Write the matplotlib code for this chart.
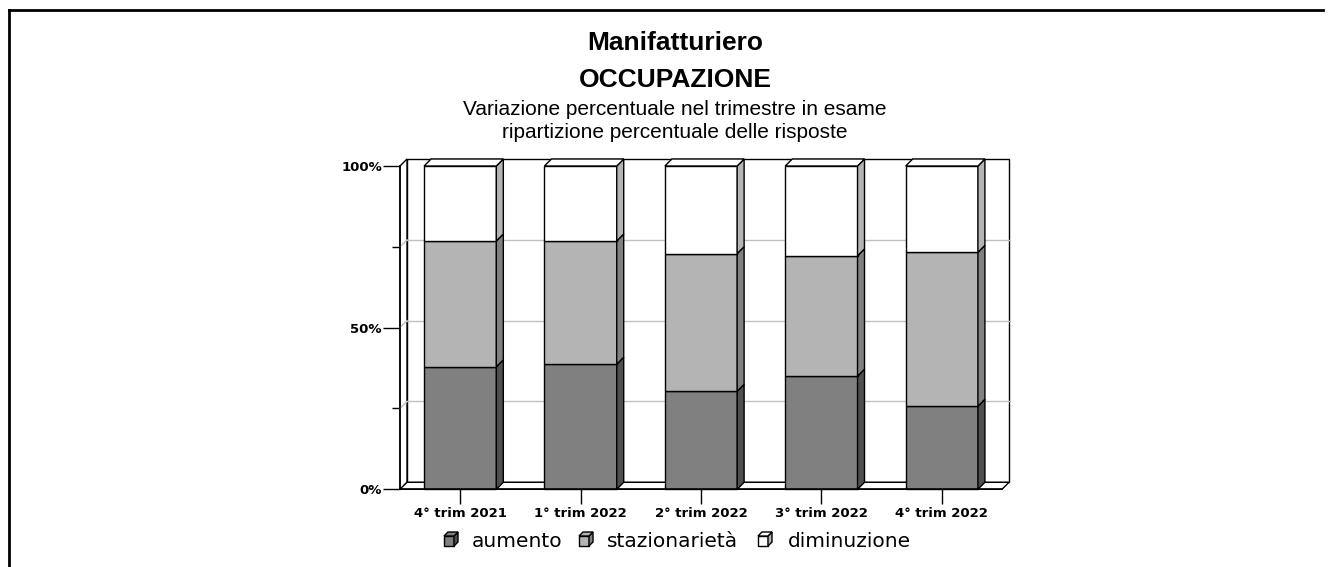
import numpy as np
import matplotlib
matplotlib.use('Agg')
import matplotlib.pyplot as plt
from matplotlib.patches import Polygon
from matplotlib.lines import Line2D
from matplotlib.transforms import IdentityTransform

# data (percent of answers)
categories = ['4° trim 2021', '1° trim 2022', '2° trim 2022', '3° trim 2022', '4° trim 2022']
aumento = [37.9, 38.7, 30.3, 35.0, 25.7]
stazionarieta = [38.9, 38.1, 42.6, 37.2, 47.6]
diminuzione = [23.2, 23.2, 27.1, 27.8, 26.7]
series_names = ['aumento', 'stazionarietà', 'diminuzione']
front_colors = ['#808080', '#b4b4b4', '#ffffff']
side_colors = ['#4f4f4f', '#808080', '#b4b4b4']
yticks_major = [0, 50, 100]
yticks_minor = [25, 75]

W, H = 1331, 567
DX, DY = 7, 7  # depth of the fake 3d, pixels

fig = plt.figure(figsize=(W / 100, H / 100), dpi=100)
ax = fig.add_axes([400 / W, (H - 489.3) / H, 602 / W, 323.3 / H])
ax.set_xlim(-0.5, len(categories) - 0.5)
ax.set_ylim(0, 100)
ax.patch.set_visible(False)
for s in ['top', 'right']:
    ax.spines[s].set_visible(False)
for s in ['left', 'bottom']:
    ax.spines[s].set_linewidth(1.1)
    ax.spines[s].set_zorder(5)

ident = IdentityTransform()


def pt(x, y, back=False):
    px, py = ax.transData.transform((x, y))
    if back:
        px, py = px + DX, py + DY
    return (px, py)


def poly(points, fc, z, ec='black', lw=1.0):
    ax.add_artist(Polygon(points, closed=True, facecolor=fc, edgecolor=ec, lw=lw,
                          transform=ident, zorder=z, joinstyle='miter', clip_on=False))


def line(a, b, z):
    ax.add_artist(Line2D([a[0], b[0]], [a[1], b[1]], color='#c0c0c0', lw=1,
                         transform=ident, zorder=z, clip_on=False))


x0, x1 = ax.get_xlim()
# back wall, left wall, floor
poly([pt(x0, 0, True), pt(x1, 0, True), pt(x1, 100, True), pt(x0, 100, True)], 'white', 1)
poly([pt(x0, 0), pt(x0, 0, True), pt(x0, 100, True), pt(x0, 100)], 'white', 1)
poly([pt(x0, 0), pt(x1, 0), pt(x1, 0, True), pt(x0, 0, True)], 'white', 1)

# gridlines on the back wall
for v in yticks_minor + [50]:
    line(pt(x0, v, True), pt(x1, v, True), 2)
    line(pt(x0, v), pt(x0, v, True), 2)

# stacked bars with front, side and top faces
width = 0.6
values = [aumento, stazionarieta, diminuzione]
for i in range(len(categories)):
    bottom = 0
    left, right = i - width / 2, i + width / 2
    for k, vals in enumerate(values):
        top = bottom + vals[i]
        z = 3 + i * 0.1 + k * 0.01
        poly([pt(left, bottom), pt(right, bottom), pt(right, top), pt(left, top)], front_colors[k], z)
        poly([pt(right, bottom), pt(right, bottom, True), pt(right, top, True), pt(right, top)], side_colors[k], z)
        if k == len(values) - 1:
            poly([pt(left, top), pt(right, top), pt(right, top, True), pt(left, top, True)], front_colors[k], z)
        bottom = top

# ticks
ax.set_xticks(range(len(categories)))
ax.set_xticklabels(categories, fontsize=9.5, fontweight='bold', family='DejaVu Sans')
ax.tick_params(axis='x', length=11, width=1, pad=2)
ax.set_yticks(yticks_major)
ax.set_yticklabels(['%d%%' % v for v in yticks_major], fontsize=9.5, fontweight='bold', family='DejaVu Sans')
ax.set_yticks(yticks_minor, minor=True)
ax.tick_params(axis='y', which='major', length=12, width=1, pad=1)
ax.tick_params(axis='y', which='minor', length=6, width=1)

# titles
cx = 675 / W
fig.text(cx, 1 - 50 / H, 'Manifatturiero', ha='center', va='baseline',
         fontsize=19, fontweight='bold', family='Liberation Sans')
fig.text(cx, 1 - 87.3 / H, 'OCCUPAZIONE', ha='center', va='baseline',
         fontsize=19, fontweight='bold', family='Liberation Sans')
fig.text(cx, 1 - 115 / H, 'Variazione percentuale nel trimestre in esame', ha='center',
         va='baseline', fontsize=15, family='Liberation Sans')
fig.text(cx, 1 - 137.7 / H, 'ripartizione percentuale delle risposte', ha='center',
         va='baseline', fontsize=15, family='Liberation Sans')

# legend with small cube icons
leg_icon_x = [444, 579, 758]
leg_text_x = [472, 607, 788]
base_y = 547
for k, name in enumerate(series_names):
    fig.text(leg_text_x[k] / W, 1 - base_y / H, name, ha='left', va='baseline',
             fontsize=14.5, family='DejaVu Sans')
    xl = leg_icon_x[k]
    yb = H - 546
    s, d = 10, 4
    front = [(xl, yb), (xl + s, yb), (xl + s, yb + s), (xl, yb + s)]
    side = [(xl + s, yb), (xl + s + d, yb + d), (xl + s + d, yb + s + d), (xl + s, yb + s)]
    topf = [(xl, yb + s), (xl + s, yb + s), (xl + s + d, yb + s + d), (xl + d, yb + s + d)]
    for pts, fc in [(front, front_colors[k]), (side, side_colors[k]), (topf, front_colors[k])]:
        fig.add_artist(Polygon(pts, closed=True, facecolor=fc, edgecolor='black', lw=1,
                               transform=ident))

# page frame (top and left)
fig.add_artist(Line2D([8.5 / W, 1323 / W], [1 - 9.5 / H, 1 - 9.5 / H], color='black', lw=2,
                      transform=fig.transFigure))
fig.add_artist(Line2D([8.5 / W, 8.5 / W], [1 - 9.5 / H, 0], color='black', lw=2,
                      transform=fig.transFigure))

fig.savefig('out.png', dpi=100)
